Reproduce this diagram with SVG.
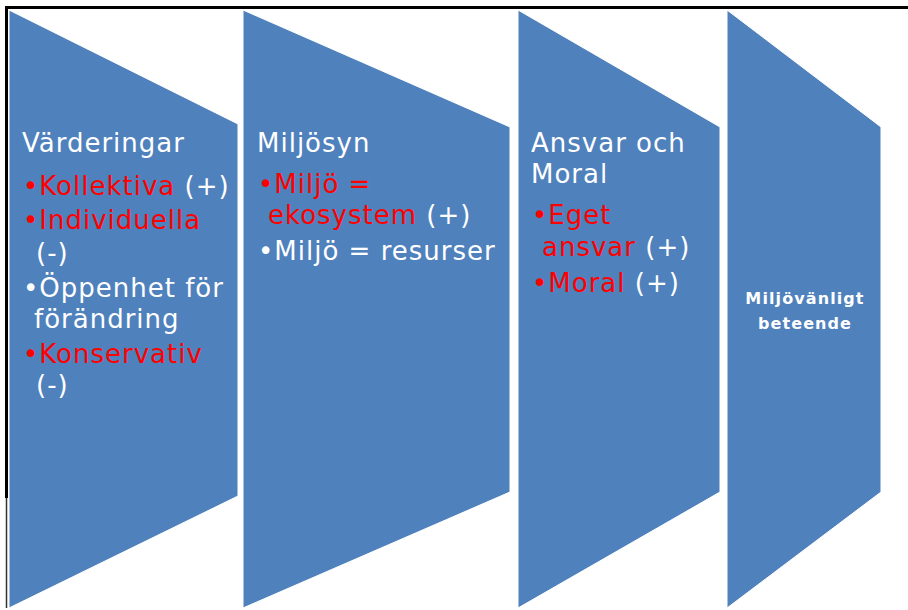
<svg xmlns="http://www.w3.org/2000/svg" width="908" height="610" viewBox="0 0 908 610">
<style>
.shape{fill:#4F81BD;stroke:#FFFFFF;stroke-width:1}
.t{font-family:"DejaVu Sans",Verdana,sans-serif;font-size:26px;letter-spacing:1px;fill:#FFFFFF}
.r{fill:#FF0000}
.b{font-family:"DejaVu Sans",Verdana,sans-serif;font-size:16px;font-weight:bold;letter-spacing:1.1px;fill:#FFFFFF;text-anchor:middle}
</style>
<rect width="908" height="610" fill="#FFFFFF"/>
<g id="frame">
<line x1="5" y1="7.5" x2="908" y2="7.5" stroke="#000" stroke-width="3"/>
<line x1="6.5" y1="6" x2="6.5" y2="498" stroke="#000" stroke-width="3"/>
<line x1="6.5" y1="498" x2="6.5" y2="608" stroke="#333" stroke-width="1.5"/>
</g>
<g id="node-varderingar">
<polygon class="shape" points="9,10 238,124 238,496 9,608"/>
<text class="t" x="22" y="152">Värderingar</text>
<text class="t" x="23" y="195"><tspan class="r">•Kollektiva</tspan> (+)</text>
<text class="t" x="23" y="229"><tspan class="r">•Individuella</tspan></text>
<text class="t" x="36" y="262">(-)</text>
<text class="t" x="23" y="297">•Öppenhet för</text>
<text class="t" x="34" y="328">förändring</text>
<text class="t" x="23" y="363"><tspan class="r">•Konservativ</tspan></text>
<text class="t" x="36" y="394">(-)</text>
</g>
<g id="node-miljosyn">
<polygon class="shape" points="243,10 510,127 510,492 243,608"/>
<text class="t" x="257" y="152">Miljösyn</text>
<text class="t" x="258" y="193"><tspan class="r">•Miljö =</tspan></text>
<text class="t" x="268" y="224"><tspan class="r">ekosystem</tspan> (+)</text>
<text class="t" x="258" y="260">•Miljö = resurser</text>
</g>
<g id="node-ansvar">
<polygon class="shape" points="518,10 720,127 720,492 518,608"/>
<text class="t" x="531" y="152">Ansvar och</text>
<text class="t" x="531" y="183">Moral</text>
<text class="t" x="532" y="224"><tspan class="r">•Eget</tspan></text>
<text class="t" x="542" y="256"><tspan class="r">ansvar</tspan> (+)</text>
<text class="t" x="532" y="292"><tspan class="r">•Moral</tspan> (+)</text>
</g>
<g id="node-beteende">
<polygon class="shape" points="727,10 881,127 881,492 727,608"/>
<text class="b" x="805" y="304">Miljövänligt</text>
<text class="b" x="805" y="329">beteende</text>
</g>
<g id="connectors"></g>
</svg>
